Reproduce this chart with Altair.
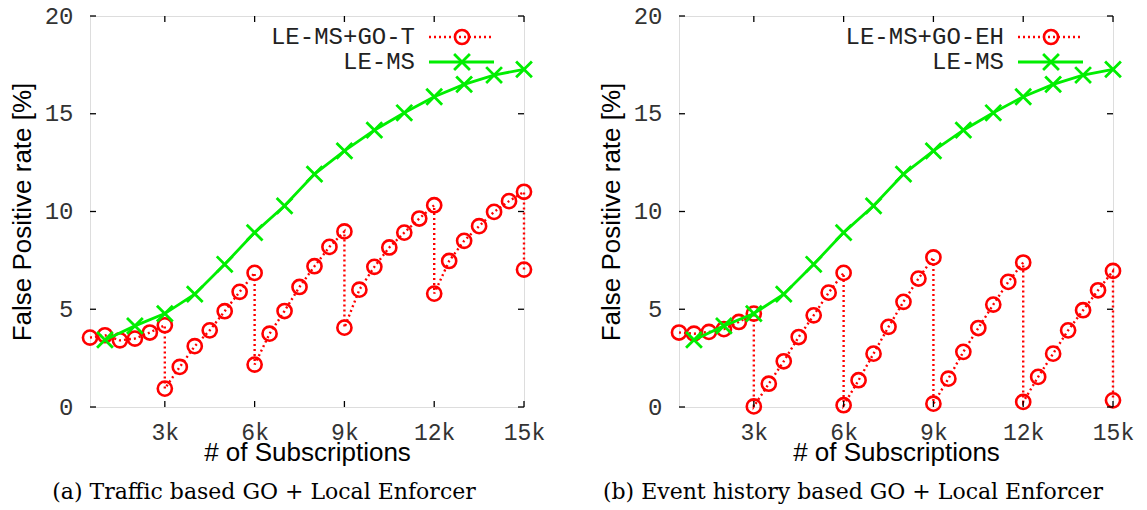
import altair as alt
import pandas as pd

# ---------------- data ----------------
red_x = [500, 1000, 1500, 2000, 2500, 3000, 3000, 3500, 4000, 4500, 5000, 5500, 6000, 6000,
         6500, 7000, 7500, 8000, 8500, 9000, 9000, 9500, 10000, 10500, 11000, 11500, 12000, 12000,
         12500, 13000, 13500, 14000, 14500, 15000, 15000]
red_t = [3.55, 3.67, 3.41, 3.5, 3.81, 4.18, 0.94, 2.05, 3.11, 3.92, 4.9, 5.89, 6.86, 2.17,
         3.75, 4.91, 6.14, 7.2, 8.19, 8.98, 4.06, 6.0, 7.17, 8.16, 8.92, 9.64, 10.32, 5.8,
         7.47, 8.5, 9.25, 9.98, 10.53, 11.01, 7.03]
red_eh = [3.81, 3.75, 3.84, 3.98, 4.35, 4.78, 0.03, 1.19, 2.34, 3.58, 4.69, 5.85, 6.86, 0.09,
          1.37, 2.73, 4.1, 5.38, 6.57, 7.65, 0.17, 1.45, 2.82, 4.04, 5.24, 6.4, 7.39, 0.26,
          1.54, 2.73, 3.92, 4.95, 5.97, 6.96, 0.34]
green_x = [1000, 2000, 3000, 4000, 5000, 6000, 7000, 8000, 9000, 10000, 11000, 12000, 13000, 14000, 15000]
green_y = [3.43, 4.15, 4.78, 5.77, 7.3, 8.92, 10.29, 11.91, 13.1, 14.16, 15.05, 15.87, 16.5, 16.98, 17.27]

x_ticks = [3000, 6000, 9000, 12000, 15000]
y_ticks = [0, 5, 10, 15, 20]

red_name = ["LE-MS+GO-T", "LE-MS+GO-EH"]
green_name = "LE-MS"
captions = ["(a) Traffic based GO + Local Enforcer", "(b) Event history based GO + Local Enforcer"]

RED = "#ff0000"
GREEN = "#00ee00"
XSHAPE = "M -1 -1 L 1 1 M -1 1 L 1 -1"
W = 434
H = 391
MONO = "Liberation Mono"


def panel(red_vals, rname, caption, cap_dx):
    rdf = pd.DataFrame({"x": red_x, "y": red_vals, "o": list(range(len(red_x)))})
    gdf = pd.DataFrame({"x": green_x, "y": green_y})
    xsc = alt.Scale(domain=[500, 15000], nice=False, zero=False)
    ysc = alt.Scale(domain=[0, 20], nice=False)
    xax = alt.Axis(values=x_ticks, labelExpr="datum.value/1000 + 'k'", ticks=False, tickSize=0,
                   domain=False, grid=False, labelFont=MONO, labelFontSize=23,
                   labelColor="#333333", labelPadding=14, labelFlush=False, labelOverlap=False,
                   title="# of Subscriptions", titleFont="Liberation Sans", titleFontSize=26,
                   titleFontWeight="normal", titleColor="black", titlePadding=-5)
    yax = alt.Axis(values=y_ticks, ticks=False, tickSize=0, domain=False, grid=False,
                   labelFont=MONO, labelFontSize=24, labelColor="#333333",
                   labelPadding=17, labelFlush=False, labelOverlap=False,
                   title="False Positive rate [%]", titleFont="Liberation Sans", titleFontSize=26,
                   titleFontWeight="normal", titleColor="black", titlePadding=9)

    X = alt.X("x:Q", scale=xsc, axis=xax)
    Y = alt.Y("y:Q", scale=ysc, axis=yax)

    rline = alt.Chart(rdf).mark_line(color=RED, strokeWidth=2.4, strokeDash=[2, 3]).encode(
        x=X, y=Y, order="o:Q")
    rpts = alt.Chart(rdf).mark_point(shape="circle", filled=False, color=RED, size=200,
                                     strokeWidth=2.6, opacity=1).encode(x=X, y=Y)
    gline = alt.Chart(gdf).mark_line(color=GREEN, strokeWidth=2.8).encode(x=X, y=Y)
    gpts = alt.Chart(gdf).mark_point(shape=XSHAPE, filled=False, color=GREEN, size=250,
                                     strokeWidth=2.8, opacity=1).encode(x=X, y=Y)

    xt = pd.DataFrame({"x": x_ticks})
    yt = pd.DataFrame({"y": y_ticks})
    tk = dict(color="black", strokeWidth=1.3)
    tb = alt.Chart(xt).mark_rule(**tk).encode(x=alt.X("x:Q", scale=xsc), y=alt.value(H), y2=alt.value(H - 6))
    tt = alt.Chart(xt).mark_rule(**tk).encode(x=alt.X("x:Q", scale=xsc), y=alt.value(0), y2=alt.value(6))
    tl = alt.Chart(yt).mark_rule(**tk).encode(y=alt.Y("y:Q", scale=ysc), x=alt.value(0), x2=alt.value(6))
    tr = alt.Chart(yt).mark_rule(**tk).encode(y=alt.Y("y:Q", scale=ysc), x=alt.value(W), x2=alt.value(W - 6))

    # legend (gnuplot style: label left, sample right)
    tx = W - 109
    l1, l2 = 21, 46
    leg_txt1 = alt.Chart(pd.DataFrame({"t": [rname]})).mark_text(
        align="right", baseline="middle", font=MONO, fontSize=24, color="#222222").encode(
        text="t:N", x=alt.value(tx), y=alt.value(l1))
    leg_txt2 = alt.Chart(pd.DataFrame({"t": [green_name]})).mark_text(
        align="right", baseline="middle", font=MONO, fontSize=24, color="#222222").encode(
        text="t:N", x=alt.value(tx), y=alt.value(l2))
    leg_l1 = alt.Chart(pd.DataFrame({"a": [0]})).mark_rule(color=RED, strokeWidth=2.4, strokeDash=[2, 3]).encode(
        x=alt.value(tx + 14), x2=alt.value(tx + 79), y=alt.value(l1))
    leg_p1 = alt.Chart(pd.DataFrame({"a": [0]})).mark_point(shape="circle", filled=False, color=RED, size=200,
                                                             strokeWidth=2.6, opacity=1).encode(
        x=alt.value(tx + 47), y=alt.value(l1))
    leg_l2 = alt.Chart(pd.DataFrame({"a": [0]})).mark_rule(color=GREEN, strokeWidth=2.8).encode(
        x=alt.value(tx + 14), x2=alt.value(tx + 79), y=alt.value(l2))
    leg_p2 = alt.Chart(pd.DataFrame({"a": [0]})).mark_point(shape=XSHAPE, filled=False, color=GREEN, size=250,
                                                             strokeWidth=2.8, opacity=1).encode(
        x=alt.value(tx + 47), y=alt.value(l2))

    return alt.layer(rline, rpts, gline, gpts, tb, tt, tl, tr,
                     leg_txt1, leg_l1, leg_p1, leg_txt2, leg_l2, leg_p2).properties(
        width=W, height=H,
        title=alt.TitleParams(text=caption, orient="bottom", font="DejaVu Serif", fontSize=22,
                              fontWeight="normal", color="black", anchor="middle", frame="group",
                              dx=cap_dx, offset=17))


left = panel(red_t, red_name[0], captions[0], -43)
right = panel(red_eh, red_name[1], captions[1], -43)

chart = alt.hconcat(left, right, spacing=51).properties(
    padding={"left": 8, "top": 3, "right": 2, "bottom": 2}
).configure_view(stroke="black", strokeWidth=1.8).configure(background="white")

chart.save("out.html", embed_options={"renderer": "svg", "actions": False})
